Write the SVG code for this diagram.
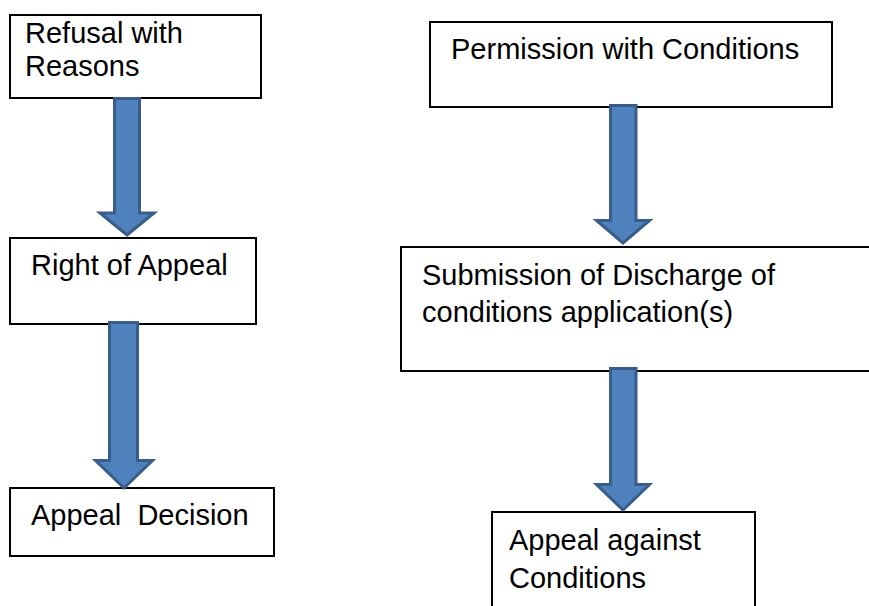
<svg xmlns="http://www.w3.org/2000/svg" width="869" height="606" viewBox="0 0 869 606">
<style>
.box{fill:#fff;stroke:#000;stroke-width:2}
.t{font-family:"Liberation Sans",Arial,sans-serif;font-size:29px;fill:#000}
.arr{fill:#4f81bd;stroke:#385d8a;stroke-width:3;stroke-linejoin:miter}
</style>
<rect width="869" height="606" fill="#fff"/>
<g id="refusal"><rect class="box" x="10" y="15" width="251" height="83"/><text class="t" x="25" y="43">Refusal with</text><text class="t" x="25" y="76">Reasons</text></g>
<g id="right-of-appeal"><rect class="box" x="10" y="238" width="246" height="86"/><text class="t" x="31" y="275">Right of Appeal</text></g>
<g id="appeal-decision"><rect class="box" x="10" y="488" width="264" height="68"/><text class="t" x="31" y="525" xml:space="preserve">Appeal  Decision</text></g>
<g id="permission"><rect class="box" x="430" y="22" width="402" height="85"/><text class="t" x="451" y="59">Permission with Conditions</text></g>
<g id="submission"><rect class="box" x="401" y="247" width="480" height="124"/><text class="t" x="422" y="285">Submission of Discharge of</text><text class="t" x="422" y="322">conditions application(s)</text></g>
<g id="appeal-conditions"><rect class="box" x="492" y="512" width="263" height="110"/><text class="t" x="509" y="550">Appeal against</text><text class="t" x="509" y="588">Conditions</text></g>
<g id="connectors">
<polygon class="arr" points="114.5,98.5 139.5,98.5 139.5,213 154,213 127,235 100,213 114.5,213"/>
<polygon class="arr" points="109.5,322.5 137.5,322.5 137.5,460.5 152.5,460.5 124,488 95.5,460.5 109.5,460.5"/>
<polygon class="arr" points="610.5,105.5 636,105.5 636,220.5 649.5,220.5 623,243 596.5,220.5 610.5,220.5"/>
<polygon class="arr" points="610.5,368.5 636,368.5 636,484.5 649.5,484.5 623,510 596.5,484.5 610.5,484.5"/>
</g>
</svg>
